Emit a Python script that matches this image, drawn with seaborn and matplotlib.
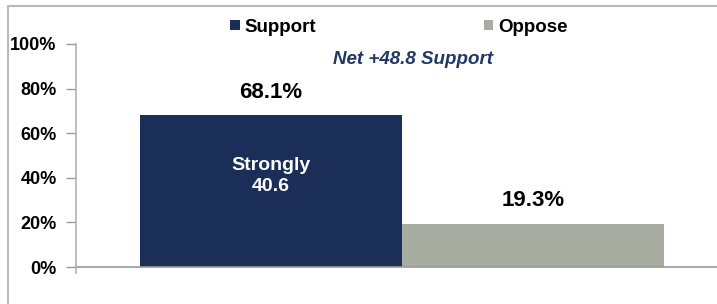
import numpy as np
import pandas as pd
import matplotlib.pyplot as plt
import seaborn as sns
from matplotlib.lines import Line2D
from matplotlib.patches import Patch

# chart data
series = ["Support", "Oppose"]
values = [68.1, 19.3]
strongly = 40.6
net = 48.8
colors = ["#1a2e57", "#a8ada2"]

sns.set_style("white")
plt.rcParams['font.family'] = ['Liberation Sans', 'DejaVu Sans']
plt.rcParams['font.weight'] = 'bold'
plt.rcParams['text.color'] = 'black'

df = pd.DataFrame({"cat": ["All"] * len(series), "series": series, "value": values})

fig = plt.figure(figsize=(7.17, 3.04), dpi=100)
ax = fig.add_axes([76 / 717, 1 - 273 / 304, 1 - 76 / 717, (273 - 44) / 304])

sns.barplot(data=df, x="cat", y="value", hue="series", palette=colors,
            width=0.8, saturation=1, legend=False, linewidth=0, ax=ax)

ax.set_xlim(-0.498, 0.481)
ax.set_ylim(-2.69, 100)
ax.set_yticks(np.arange(0, 101, 20))
ax.set_yticklabels([f"{t}%" for t in range(0, 101, 20)], fontsize=13,
                   fontweight='bold', color='black')
ax.set_xticks([])
ax.set_xlabel("")
ax.set_ylabel("")
ax.tick_params(axis='y', length=7, width=1, color='#999999', pad=7, left=True)
for s in ["top", "right", "bottom"]:
    ax.spines[s].set_visible(False)
ax.spines["left"].set_color("#b0b0b0")
ax.spines["left"].set_linewidth(1.2)
ax.axhline(0, color="#999999", lw=1.2, zorder=3)

# value labels above bars
for cont in ax.containers:
    ax.bar_label(cont, labels=[f"{v:.1f}%" for v in cont.datavalues],
                 padding=9, fontsize=16, fontweight='bold', color='black')

# strongly label inside support bar
sup = ax.containers[0].patches[0]
ax.text(sup.get_x() + sup.get_width() / 2, 41, f"Strongly\n{strongly}",
        ha='center', va='center', color='white', fontsize=14,
        fontweight='bold', linespacing=1.3)

fig.text(413 / 717, 1 - 59 / 304, f"Net +{net} Support", ha='center', va='center',
         color='#1f3864', fontsize=13.5, fontweight='bold', style='italic')

handles = [Patch(facecolor=c, edgecolor='none') for c in colors]
fig.legend(handles, series, loc='center', bbox_to_anchor=(399 / 717, 1 - 27 / 304),
           ncol=2, frameon=False, handlelength=0.5, handleheight=0.5,
           handletextpad=0.25, columnspacing=8.95,
           prop={'size': 13.5, 'weight': 'bold'})

# outer frame
frame_col = "#b8bcb0"
fig.add_artist(Line2D([8 / 717, 8 / 717], [0, 1 - 6 / 304], color=frame_col, lw=1.5,
                      transform=fig.transFigure))
fig.add_artist(Line2D([8 / 717, 1], [1 - 6 / 304, 1 - 6 / 304], color=frame_col, lw=1.5,
                      transform=fig.transFigure))

fig.savefig("out.png", dpi=100)
